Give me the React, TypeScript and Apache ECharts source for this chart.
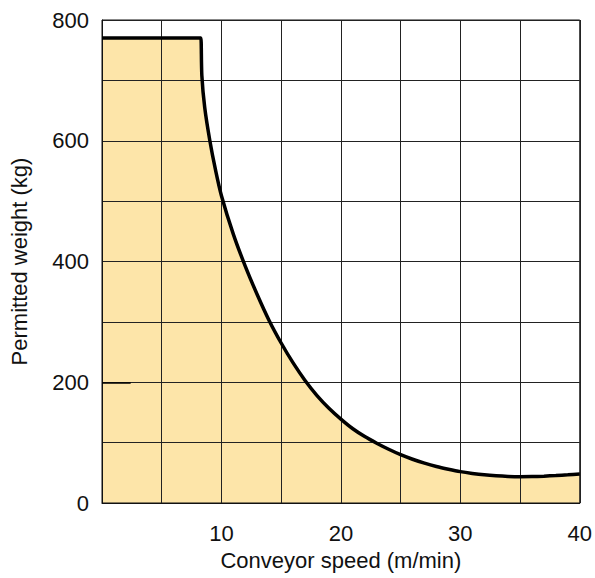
import React, { useEffect, useRef } from "react";
import * as echarts from "echarts";

const speeds = [0, 4, 8.2, 8.28, 8.36, 8.6, 9.03, 9.5, 10, 11, 12, 13, 14, 15, 16, 17, 18, 19, 20, 21, 22, 23, 24, 25, 26, 27, 28, 29, 30, 31, 32, 33, 34, 35, 36, 37, 38, 39, 40];
const weights = [770, 770, 770, 770, 708, 655, 600, 552, 509, 445, 392, 345, 302, 265, 232, 203, 178, 157, 139, 123, 110, 99, 89, 80, 72.5, 66, 60.5, 56, 52, 49, 46.6, 45, 44, 43.6, 43.8, 44.5, 45.5, 46.7, 48];
const xLabels = [10, 20, 30, 40];
const yLabels = [0, 200, 400, 600, 800];
const stubStart = [0, 200];
const stubEnd = [2.4, 200];

export default function App() {
  const ref = useRef<HTMLDivElement>(null);
  useEffect(() => {
    const chart = echarts.init(ref.current!, undefined, { renderer: "svg" });
    const font = "'Liberation Sans', Arial, Helvetica, sans-serif";
    const data = speeds.map((s, i) => [s, weights[i]]);
    chart.setOption({
      animation: false,
      backgroundColor: "#fff",
      grid: {
        left: 96,
        right: 15,
        top: 20,
        bottom: 75,
        show: true,
        borderColor: "#111",
        borderWidth: 1,
        z: 2,
      },
      xAxis: {
        type: "value",
        min: 0,
        max: 40,
        interval: 5,
        z: 2,
        name: "Conveyor speed (m/min)",
        nameLocation: "middle",
        nameGap: 46,
        nameTextStyle: { fontFamily: font, fontSize: 22, color: "#111" },
        axisLine: { show: true, lineStyle: { color: "#111", width: 1 } },
        axisTick: { show: false },
        axisLabel: {
          fontFamily: font,
          fontSize: 22,
          color: "#111",
          margin: 19,
          formatter: (v: number) => (xLabels.includes(v) ? String(v) : ""),
        },
        splitLine: { show: true, lineStyle: { color: "#222", width: 1 } },
      },
      yAxis: {
        type: "value",
        min: 0,
        max: 800,
        interval: 100,
        z: 2,
        name: "Permitted weight (kg)",
        nameLocation: "middle",
        nameGap: 72,
        nameTextStyle: { fontFamily: font, fontSize: 22, color: "#111" },
        axisLine: { show: true, lineStyle: { color: "#111", width: 1 } },
        axisTick: { show: false },
        axisLabel: {
          fontFamily: font,
          fontSize: 22,
          color: "#111",
          margin: 13,
          formatter: (v: number) => (yLabels.includes(v) ? String(v) : ""),
        },
        splitLine: { show: true, lineStyle: { color: "#222", width: 1 } },
      },
      series: [
        {
          type: "line",
          data,
          showSymbol: false,
          smooth: 0.3,
          lineStyle: { width: 0 },
          areaStyle: { color: "#FDE5A9", opacity: 1, origin: "start" },
          z: 1,
        },
        {
          type: "line",
          data,
          showSymbol: false,
          smooth: 0.3,
          lineStyle: { color: "#000", width: 3.5 },
          z: 3,
          markLine: {
            silent: true,
            symbol: "none",
            label: { show: false },
            lineStyle: { color: "#000", width: 1.5, type: "solid" },
            data: [[{ coord: stubStart }, { coord: stubEnd }]],
          },
        },
      ],
    });
    return () => chart.dispose();
  }, []);
  return (
    <div
      ref={ref}
      style={{ position: "fixed", left: 0, top: 0, width: 595, height: 578 }}
    />
  );
}
